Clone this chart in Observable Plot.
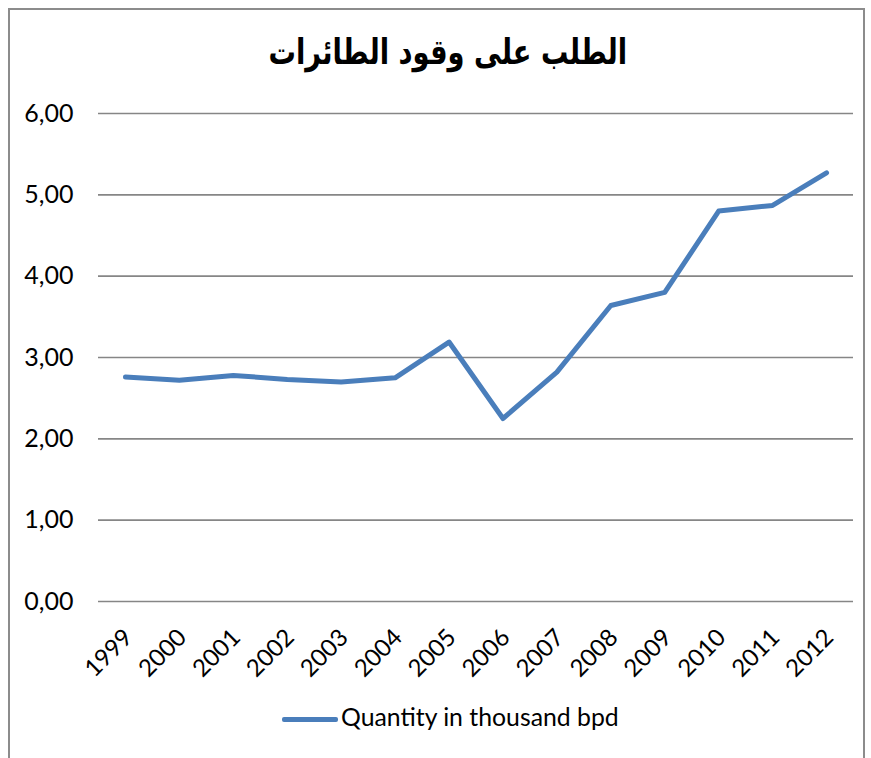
<!DOCTYPE html>
<html>
<head>
<meta charset="utf-8">
<script src="https://cdn.jsdelivr.net/npm/d3@7"></script>
<script src="https://cdn.jsdelivr.net/npm/@observablehq/plot@0.6"></script>
<style>
  html, body { margin: 0; padding: 0; background: #fff; }
  #wrap { position: relative; width: 871px; height: 758px; overflow: hidden; background: #fff; }
  #frame { position: absolute; left: 8px; top: 8px; width: 857px; height: 800px; border: 2px solid #8c8c8c; box-sizing: border-box; pointer-events: none; }
  #title { height: 90px; width: 871px; display: flex; align-items: center; justify-content: center; padding-left: 24px; box-sizing: border-box; padding-top: 14px; }
  #title span { display: inline-block; font-family: "DejaVu Sans", sans-serif; font-weight: bold; font-size: 35px; color: #000; transform: scaleX(0.78); white-space: nowrap; }
  #legend { position: relative; height: 58px; width: 871px; font-family: Lato, sans-serif; font-size: 24.8px; color: #000; }
  #legend .sw { position: absolute; left: 282px; top: 17px; width: 56px; height: 5px; background: #4a7ebb; border-radius: 2px; }
  #legend .lb { position: absolute; left: 341px; top: 2px; white-space: nowrap; }
  svg { display: block; }
</style>
</head>
<body>
<div id="wrap">
  <div id="title"><span dir="rtl">الطلب على وقود الطائرات</span></div>
  <div id="chart"></div>
  <div id="legend"><div class="sw"></div><div class="lb">Quantity in thousand bpd</div></div>
  <div id="frame"></div>
</div>
<script>
const years = ["1999","2000","2001","2002","2003","2004","2005","2006","2007","2008","2009","2010","2011","2012"];
const quantity = [2.76, 2.72, 2.78, 2.73, 2.70, 2.75, 3.19, 2.25, 2.82, 3.64, 3.80, 4.80, 4.87, 5.27];
const yTicks = [0, 1, 2, 3, 4, 5, 6];
const seriesName = "Quantity in thousand bpd";

const data = years.map((y, i) => ({year: y, value: quantity[i]}));

const chart = Plot.plot({
  width: 871,
  height: 610,
  marginLeft: 98,
  marginRight: 18,
  marginTop: 23,
  marginBottom: 99,
  style: {fontFamily: "Lato, sans-serif", color: "#000", background: "transparent"},
  x: {type: "point", domain: years, padding: 0.5, round: false, label: null},
  y: {domain: [0, 6], label: null},
  marks: [
    Plot.gridY(yTicks, {stroke: "#868686", strokeOpacity: 1, strokeWidth: 1.6}),
    Plot.axisY(yTicks, {tickSize: 0, tickPadding: 25, fontSize: 25, tickFormat: d => d.toFixed(2).replace(".", ","), label: null}),
    Plot.axisX({tickSize: 0, tickRotate: -45, tickPadding: 32, dx: 3, fontSize: 24, label: null}),
    Plot.line(data, {x: "year", y: "value", stroke: "#4a7ebb", strokeWidth: 5, strokeLinejoin: "round", strokeLinecap: "round"})
  ]
});
document.getElementById("chart").appendChild(chart);
</script>
</body>
</html>
